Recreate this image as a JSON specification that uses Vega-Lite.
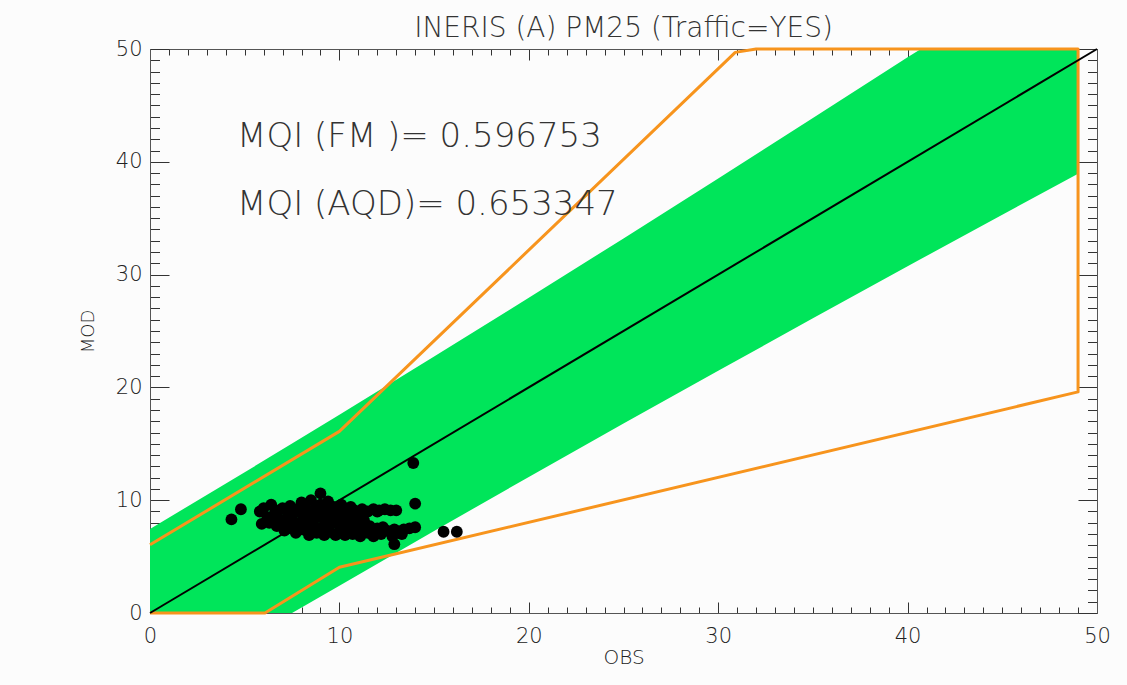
{
  "$schema": "https://vega.github.io/schema/vega-lite/v6.json",
  "width": 947,
  "height": 564,
  "autosize": {"type": "none"},
  "padding": {"left": 150, "top": 49, "right": 30, "bottom": 72},
  "background": "#fcfcfc",
  "title": {
    "text": "INERIS (A) PM25 (Traffic=YES)",
    "fontSize": 28,
    "font": "DejaVu Sans",
    "fontWeight": 200,
    "color": "#333333",
    "offset": -27,
    "frame": "group",
    "baseline": "alphabetic",
    "anchor": "middle"
  },
  "config": {
    "view": {"stroke": null},
    "axis": {
      "grid": false,
      "domainColor": "#555555",
      "domainWidth": 1,
      "tickColor": "#333333",
      "tickWidth": 1,
      "labelFont": "DejaVu Sans",
      "labelFontSize": 21,
      "labelFontWeight": 200,
      "labelColor": "#222222",
      "labelFlush": false,
      "labelOverlap": false,
      "labelBound": false,
      "titleFont": "DejaVu Sans",
      "titleFontWeight": 200,
      "titleColor": "#222222"
    }
  },
  "datasets": {
    "band": [
      {"obs": 0, "lo": 0, "hi": 7.45},
      {"obs": 5, "lo": 0, "hi": 12.48},
      {"obs": 7.5, "lo": 0, "hi": 15.02},
      {"obs": 10, "lo": 2.42, "hi": 17.58},
      {"obs": 15, "lo": 7.27, "hi": 22.73},
      {"obs": 20, "lo": 12.06, "hi": 27.94},
      {"obs": 25, "lo": 16.79, "hi": 33.21},
      {"obs": 30, "lo": 21.48, "hi": 38.52},
      {"obs": 35, "lo": 26.12, "hi": 43.88},
      {"obs": 40, "lo": 30.73, "hi": 49.27},
      {"obs": 40.7, "lo": 31.38, "hi": 50},
      {"obs": 45, "lo": 35.31, "hi": 50},
      {"obs": 49, "lo": 38.95, "hi": 50}
    ],
    "limit": [
      {"k": 1, "obs": 0, "mod": 6.05},
      {"k": 2, "obs": 10, "mod": 16.1},
      {"k": 3, "obs": 30.9, "mod": 49.7},
      {"k": 4, "obs": 32, "mod": 50},
      {"k": 5, "obs": 49, "mod": 50},
      {"k": 6, "obs": 49, "mod": 19.6},
      {"k": 7, "obs": 10, "mod": 4.05},
      {"k": 8, "obs": 6.07, "mod": 0},
      {"k": 9, "obs": 0, "mod": 0}
    ],
    "diag": [
      {"obs": 0, "mod": 0},
      {"obs": 50, "mod": 50}
    ],
    "points": [
      {"obs": 4.3, "mod": 8.3}, {"obs": 4.8, "mod": 9.2}, {"obs": 13.9, "mod": 13.3}, {"obs": 14.0, "mod": 9.7},
      {"obs": 15.5, "mod": 7.2}, {"obs": 16.2, "mod": 7.2}, {"obs": 12.9, "mod": 6.1}, {"obs": 9.0, "mod": 10.6},
      {"obs": 5.8, "mod": 9.0}, {"obs": 5.9, "mod": 7.9}, {"obs": 6.2, "mod": 8.5}, {"obs": 6.4, "mod": 9.6},
      {"obs": 6.6, "mod": 8.9}, {"obs": 6.7, "mod": 7.7}, {"obs": 6.9, "mod": 8.2}, {"obs": 7.0, "mod": 9.3},
      {"obs": 7.1, "mod": 7.3}, {"obs": 7.3, "mod": 8.7}, {"obs": 7.4, "mod": 9.5}, {"obs": 7.6, "mod": 8.0},
      {"obs": 7.7, "mod": 7.1}, {"obs": 7.8, "mod": 9.0}, {"obs": 8.0, "mod": 9.8}, {"obs": 8.1, "mod": 8.4},
      {"obs": 8.1, "mod": 7.4}, {"obs": 8.2, "mod": 9.3}, {"obs": 8.4, "mod": 6.9}, {"obs": 8.4, "mod": 8.8},
      {"obs": 8.5, "mod": 10.0}, {"obs": 8.6, "mod": 7.8}, {"obs": 8.7, "mod": 9.2}, {"obs": 8.8, "mod": 7.1},
      {"obs": 8.9, "mod": 8.5}, {"obs": 9.0, "mod": 9.6}, {"obs": 9.1, "mod": 7.6}, {"obs": 9.2, "mod": 6.9},
      {"obs": 9.2, "mod": 9.0}, {"obs": 9.3, "mod": 8.2}, {"obs": 9.4, "mod": 9.9}, {"obs": 9.5, "mod": 7.2},
      {"obs": 9.6, "mod": 8.7}, {"obs": 9.7, "mod": 9.4}, {"obs": 9.8, "mod": 6.9}, {"obs": 9.9, "mod": 7.9},
      {"obs": 10.0, "mod": 9.0}, {"obs": 10.1, "mod": 9.6}, {"obs": 10.1, "mod": 7.4}, {"obs": 10.2, "mod": 8.4},
      {"obs": 10.3, "mod": 6.9}, {"obs": 10.4, "mod": 9.2}, {"obs": 10.5, "mod": 7.8}, {"obs": 10.6, "mod": 8.6},
      {"obs": 10.7, "mod": 7.0}, {"obs": 10.8, "mod": 9.1}, {"obs": 10.9, "mod": 7.5}, {"obs": 11.0, "mod": 8.3},
      {"obs": 11.2, "mod": 9.2}, {"obs": 11.5, "mod": 9.0}, {"obs": 11.8, "mod": 9.2}, {"obs": 12.1, "mod": 9.1},
      {"obs": 12.4, "mod": 9.2}, {"obs": 12.7, "mod": 9.1}, {"obs": 13.0, "mod": 9.1},
      {"obs": 11.1, "mod": 6.8}, {"obs": 11.3, "mod": 7.6}, {"obs": 11.5, "mod": 7.1}, {"obs": 11.8, "mod": 6.8},
      {"obs": 12.0, "mod": 7.5}, {"obs": 12.2, "mod": 7.0}, {"obs": 12.5, "mod": 7.3}, {"obs": 12.8, "mod": 6.8},
      {"obs": 13.1, "mod": 7.2}, {"obs": 13.4, "mod": 7.4}, {"obs": 13.7, "mod": 7.5}, {"obs": 14.0, "mod": 7.6},
      {"obs": 6.3, "mod": 8.0}, {"obs": 6.8, "mod": 9.1}, {"obs": 7.2, "mod": 7.9}, {"obs": 7.5, "mod": 8.4},
      {"obs": 7.9, "mod": 7.7}, {"obs": 8.3, "mod": 8.1}, {"obs": 8.6, "mod": 8.4}, {"obs": 8.9, "mod": 7.4},
      {"obs": 9.1, "mod": 8.6}, {"obs": 9.4, "mod": 7.7}, {"obs": 9.7, "mod": 8.1}, {"obs": 9.9, "mod": 8.6},
      {"obs": 10.3, "mod": 8.0}, {"obs": 10.6, "mod": 9.4}, {"obs": 10.8, "mod": 8.0}, {"obs": 11.1, "mod": 8.8},
      {"obs": 7.6, "mod": 9.2}, {"obs": 8.0, "mod": 8.9}, {"obs": 8.9, "mod": 9.1}, {"obs": 9.6, "mod": 9.2},
      {"obs": 10.2, "mod": 8.9}, {"obs": 7.3, "mod": 7.5}, {"obs": 8.5, "mod": 7.2}, {"obs": 9.3, "mod": 7.4},
      {"obs": 10.0, "mod": 7.1}, {"obs": 10.5, "mod": 7.3}, {"obs": 11.3, "mod": 8.2}, {"obs": 11.0, "mod": 7.1},
      {"obs": 6.0, "mod": 9.3}, {"obs": 6.5, "mod": 8.1}, {"obs": 12.3, "mod": 7.6}, {"obs": 12.0, "mod": 9.0},
      {"obs": 11.6, "mod": 7.7}, {"obs": 12.9, "mod": 7.4}, {"obs": 13.3, "mod": 7.0}
    ],
    "labels": [
      {"obs": 4.6, "mod": 42.2, "txt": "MQI (FM )= 0.596753"},
      {"obs": 4.6, "mod": 36.2, "txt": "MQI (AQD)= 0.653347"}
    ]
  },
  "layer": [
    {
      "data": {"name": "band"},
      "mark": {"type": "area", "color": "#00e55a", "opacity": 1},
      "encoding": {
        "x": {
          "field": "obs", "type": "quantitative",
          "scale": {"domain": [0, 50], "nice": false, "zero": false},
          "axis": {
            "orient": "bottom",
            "title": "OBS",
            "titleFontSize": 20,
            "titlePadding": -4,
            "values": [0,1,2,3,4,5,6,7,8,9,10,11,12,13,14,15,16,17,18,19,20,21,22,23,24,25,26,27,28,29,30,31,32,33,34,35,36,37,38,39,40,41,42,43,44,45,46,47,48,49,50],
            "labelExpr": "datum.value % 10 === 0 ? datum.label : ''",
            "tickSize": {"condition": {"test": "datum.value % 10 === 0", "value": -11}, "value": -6},
            "labelPadding": 23
          }
        },
        "y": {
          "field": "lo", "type": "quantitative",
          "scale": {"domain": [0, 50], "nice": false, "zero": false},
          "axis": {
            "orient": "left",
            "title": "MOD",
            "titleFontSize": 18,
            "titlePadding": 18,
            "values": [0,1,2,3,4,5,6,7,8,9,10,11,12,13,14,15,16,17,18,19,20,21,22,23,24,25,26,27,28,29,30,31,32,33,34,35,36,37,38,39,40,41,42,43,44,45,46,47,48,49,50],
            "labelExpr": "datum.value % 10 === 0 ? datum.label : ''",
            "tickSize": {"condition": {"test": "datum.value % 10 === 0", "value": -19}, "value": -9.5},
            "labelPadding": 27
          }
        },
        "y2": {"field": "hi"}
      }
    },
    {
      "data": {"name": "limit"},
      "mark": {"type": "line", "color": "#f7941d", "strokeWidth": 3, "strokeJoin": "round"},
      "encoding": {
        "x": {
          "field": "obs", "type": "quantitative",
          "scale": {"domain": [0, 50], "nice": false, "zero": false},
          "axis": {
            "orient": "top",
            "title": null,
            "labels": false,
            "values": [0,1,2,3,4,5,6,7,8,9,10,11,12,13,14,15,16,17,18,19,20,21,22,23,24,25,26,27,28,29,30,31,32,33,34,35,36,37,38,39,40,41,42,43,44,45,46,47,48,49,50],
            "tickSize": {"condition": {"test": "datum.value % 10 === 0", "value": -11}, "value": -6}
          }
        },
        "y": {
          "field": "mod", "type": "quantitative",
          "scale": {"domain": [0, 50], "nice": false, "zero": false},
          "axis": {
            "orient": "right",
            "title": null,
            "labels": false,
            "values": [0,1,2,3,4,5,6,7,8,9,10,11,12,13,14,15,16,17,18,19,20,21,22,23,24,25,26,27,28,29,30,31,32,33,34,35,36,37,38,39,40,41,42,43,44,45,46,47,48,49,50],
            "tickSize": {"condition": {"test": "datum.value % 10 === 0", "value": -19}, "value": -9.5}
          }
        },
        "order": {"field": "k", "type": "quantitative"}
      }
    },
    {
      "data": {"name": "diag"},
      "mark": {"type": "line", "color": "#000000", "strokeWidth": 2},
      "encoding": {
        "x": {"field": "obs", "type": "quantitative", "scale": {"domain": [0, 50], "nice": false, "zero": false}, "axis": null},
        "y": {"field": "mod", "type": "quantitative", "scale": {"domain": [0, 50], "nice": false, "zero": false}, "axis": null}
      }
    },
    {
      "data": {"name": "points"},
      "mark": {"type": "circle", "color": "#000000", "opacity": 1, "size": 140},
      "encoding": {
        "x": {"field": "obs", "type": "quantitative", "scale": {"domain": [0, 50], "nice": false, "zero": false}, "axis": null},
        "y": {"field": "mod", "type": "quantitative", "scale": {"domain": [0, 50], "nice": false, "zero": false}, "axis": null}
      }
    },
    {
      "data": {"name": "labels"},
      "mark": {"type": "text", "align": "left", "baseline": "middle", "font": "DejaVu Sans", "fontWeight": 200, "fontSize": 34, "color": "#333333"},
      "encoding": {
        "x": {"field": "obs", "type": "quantitative", "scale": {"domain": [0, 50], "nice": false, "zero": false}, "axis": null},
        "y": {"field": "mod", "type": "quantitative", "scale": {"domain": [0, 50], "nice": false, "zero": false}, "axis": null},
        "text": {"field": "txt"}
      }
    }
  ],
  "resolve": {"axis": {"x": "independent", "y": "independent"}}
}
